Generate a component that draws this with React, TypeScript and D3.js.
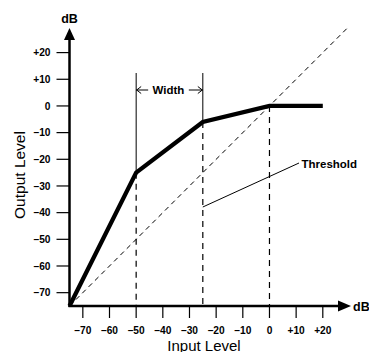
import React from "react";
import * as d3 from "d3";

const xTicks = [-70, -60, -50, -40, -30, -20, -10, 0, 10, 20];
const yTicks = [-70, -60, -50, -40, -30, -20, -10, 0, 10, 20];
const curveIn = [-75, -50, -25, 0, 20];
const curveOut = [-75, -25, -6, 0, 0];
const unityIn = [-75, 29];
const thresholdMarks = [-50, -25, 0];
const widthMarks = [-50, -25];

const W = 369;
const H = 352;
const x = d3.scaleLinear().domain([-75, 20]).range([69.5, 322.8]);
const y = d3.scaleLinear().domain([-75, 20]).range([306, 52.6]);

const fmt = (v: number) => (v > 0 ? "+" + v : v < 0 ? "\u2013" + Math.abs(v) : "0");

export default function App() {
  const line = d3
    .line<number>()
    .x((d) => x(d))
    .y((_, i) => y(curveOut[i]));
  const curvePath = line(curveIn) || "";
  const unityPath = d3
    .line<number>()
    .x((d) => x(d))
    .y((d) => y(d))(unityIn) || "";
  const font = "'Liberation Sans', Arial, Helvetica, sans-serif";
  const x0 = x(-75);
  const y0 = y(-75);
  const widthY = 90;
  const widthTop = 73;
  return (
    <svg width={W} height={H} style={{ position: "absolute", left: 0, top: 0 }} fontFamily={font}>
      <rect width={W} height={H} fill="#fff" />
      {/* unity dashed diagonal */}
      <path d={unityPath} stroke="#000" strokeWidth={1} strokeDasharray="5,4" fill="none" />
      {/* vertical dashed lines */}
      {thresholdMarks.map((v, i) => (
        <line
          key={v}
          x1={x(v)}
          x2={x(v)}
          y1={y(curveOut[i + 1])}
          y2={y0}
          stroke="#000"
          strokeWidth={1.2}
          strokeDasharray="6,5"
        />
      ))}
      {/* width solid lines */}
      {widthMarks.map((v, i) => (
        <line key={v} x1={x(v)} x2={x(v)} y1={widthTop} y2={y(curveOut[i + 1])} stroke="#000" strokeWidth={1} />
      ))}
      {/* width arrows */}
      <line x1={x(-50)} x2={x(-50) + 12} y1={widthY} y2={widthY} stroke="#000" strokeWidth={1} />
      <polyline
        points={`${x(-50) + 5},${widthY - 3.5} ${x(-50) + 0.5},${widthY} ${x(-50) + 5},${widthY + 3.5}`}
        fill="none"
        stroke="#000"
        strokeWidth={1}
      />
      <line x1={x(-25) - 14} x2={x(-25)} y1={widthY} y2={widthY} stroke="#000" strokeWidth={1} />
      <polyline
        points={`${x(-25) - 5},${widthY - 3.5} ${x(-25) - 0.5},${widthY} ${x(-25) - 5},${widthY + 3.5}`}
        fill="none"
        stroke="#000"
        strokeWidth={1}
      />
      <text x={(x(-50) + x(-25)) / 2 - 1} y={widthY + 4} fontSize={11.5} fontWeight="bold" textAnchor="middle">
        Width
      </text>
      {/* threshold leader */}
      <line x1={x(-25)} y1={207} x2={299} y2={163} stroke="#000" strokeWidth={1} />
      <text x={301.5} y={167.5} fontSize={11.5} fontWeight="bold">
        Threshold
      </text>
      {/* curve */}
      <path d={curvePath} stroke="#000" strokeWidth={4.3} fill="none" strokeLinejoin="miter" />
      {/* axes */}
      <line x1={x0} x2={x0} y1={y0 + 1} y2={38} stroke="#000" strokeWidth={2.5} />
      <polygon points={`${x0 - 5.5},${40} ${x0 + 5.5},${40} ${x0},${28}`} fill="#000" />
      <line x1={x0 - 1} x2={340} y1={y0} y2={y0} stroke="#000" strokeWidth={2.5} />
      <polygon points={`${338},${y0 - 5.5} ${338},${y0 + 5.5} ${351},${y0}`} fill="#000" />
      {/* ticks */}
      {yTicks.map((t) => (
        <g key={"y" + t}>
          <line x1={x0 - 13} x2={x0} y1={y(t)} y2={y(t)} stroke="#000" strokeWidth={1.2} />
          <text x={50.5} y={y(t) + 3.6} fontSize={10.2} fontWeight="bold" textAnchor="end">
            {fmt(t)}
          </text>
        </g>
      ))}
      {xTicks.map((t) => (
        <g key={"x" + t}>
          <line x1={x(t)} x2={x(t)} y1={y0} y2={y0 + 12} stroke="#000" strokeWidth={1.2} />
          <text x={x(t)} y={333.5} fontSize={10.2} fontWeight="bold" textAnchor="middle">
            {fmt(t)}
          </text>
        </g>
      ))}
      <text x={x0} y={23} fontSize={12.5} fontWeight="bold" textAnchor="middle">
        dB
      </text>
      <text x={353} y={310.5} fontSize={12.5} fontWeight="bold">
        dB
      </text>
      <text x={204} y={351} fontSize={15} textAnchor="middle">
        Input Level
      </text>
      <text transform={`translate(25,175) rotate(-90)`} fontSize={15.5} textAnchor="middle">
        Output Level
      </text>
    </svg>
  );
}
